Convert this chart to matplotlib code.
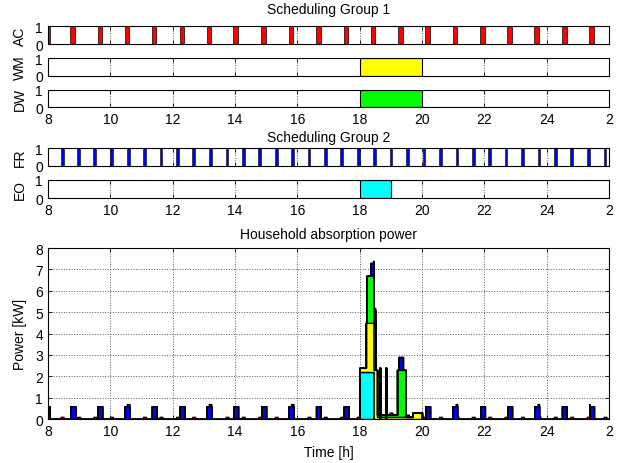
import numpy as np
import matplotlib
matplotlib.use('Agg')
import matplotlib.pyplot as plt

plt.rcParams['font.family'] = ['Liberation Sans', 'DejaVu Sans']
plt.rcParams['font.size'] = 10

# ---- data (hours / kW) ----
ac_start = [7.90, 8.72, 9.59, 10.46, 11.33, 12.22, 13.09, 13.95, 14.85, 15.72, 16.60,
            17.49, 18.35, 19.24, 20.11, 20.98, 21.87, 22.74, 23.61, 24.49, 25.37]
ac_dur = 0.15
ac_kw = 0.6

fr_start = [8.41, 8.94, 9.46, 9.99, 10.53, 11.05, 11.58, 12.11, 12.63, 13.16, 13.70,
            14.22, 14.75, 15.28, 15.80, 16.33, 16.85, 17.38, 17.91, 18.43, 18.96,
            19.49, 20.02, 20.55, 21.08, 21.60, 22.13, 22.65, 23.18, 23.71, 24.23,
            24.76, 25.29, 25.83]
fr_dur = 0.09
fr_kw = 0.1

wm_window = (18.0, 20.0)
dw_window = (18.0, 20.0)
eo_window = (18.0, 19.0)

# step profiles: breakpoints and power after each breakpoint
eo_t = [18.00, 18.45, 18.64, 18.66, 18.83, 18.85]
eo_p = [2.2, 0.0, 2.2, 0.0, 2.2, 0.0]
wm_t = [18.00, 18.20, 18.56, 19.48, 19.70, 20.00]
wm_p = [0.2, 2.3, 0.1, 0.1, 0.3, 0.0]
dw_t = [18.22, 18.51, 18.56, 19.20, 19.47]
dw_p = [2.2, 0.0, 0.1, 2.2, 0.0]

xticks = [8, 10, 12, 14, 16, 18, 20, 22, 24, 26]
xticklabels = ['8', '10', '12', '14', '16', '18', '20', '22', '24', '2']

t = np.round(np.arange(8.0, 26.0001, 0.005), 4)


def pulses(starts, dur, kw):
    p = np.zeros_like(t)
    for s in starts:
        p[(t >= s) & (t < s + dur)] = kw
    return p


def steps(bt, vals):
    p = np.zeros_like(t)
    for i in range(len(bt)):
        end = bt[i + 1] if i + 1 < len(bt) else 99
        p[(t >= bt[i]) & (t < end)] = vals[i]
    return p


def style(ax, labels=True):
    ax.set_xlim(8, 26)
    ax.set_xticks(xticks)
    if labels:
        ax.set_xticklabels(xticklabels)
    else:
        ax.set_xticklabels([])
    ax.tick_params(direction='in', top=True, right=True, length=3, width=0.6)
    ax.grid(True, ls=':', color='0.35', lw=0.7)
    ax.set_axisbelow(True)
    for s in ax.spines.values():
        s.set_linewidth(0.8)


fig = plt.figure(figsize=(6.24, 4.64), dpi=100)
L, W = 0.0769, 0.899
ax_ac = fig.add_axes([L, 0.9024, W, 0.0388])
ax_wm = fig.add_axes([L, 0.8347, W, 0.0381])
ax_dw = fig.add_axes([L, 0.7666, W, 0.0379])
ax_fr = fig.add_axes([L, 0.6407, W, 0.0375])
ax_eo = fig.add_axes([L, 0.5711, W, 0.0394])
ax = fig.add_axes([L, 0.0948, W, 0.3685])

top = [
    (ax_ac, 'AC', False),
    (ax_wm, 'WM', False),
    (ax_dw, 'DW', True),
    (ax_fr, 'FR', False),
    (ax_eo, 'EO', True),
]
for a, name, lab in top:
    style(a, lab)
    a.set_ylim(0, 1)
    a.set_yticks([0, 1])
    a.set_ylabel(name)
    a.yaxis.set_label_coords(-0.037, 0.5)

ax_ac.bar(ac_start, 1, width=ac_dur, align='edge', color='r', edgecolor='k', lw=0.5)
ax_fr.bar(fr_start, 1, width=fr_dur, align='edge', color='b', edgecolor='k', lw=0.4)
ax_wm.bar(wm_window[0], 1, width=wm_window[1] - wm_window[0], align='edge',
          color='yellow', edgecolor='k', lw=0.8)
ax_dw.bar(dw_window[0], 1, width=dw_window[1] - dw_window[0], align='edge',
          color='#00ff00', edgecolor='k', lw=0.8)
ax_eo.bar(eo_window[0], 1, width=eo_window[1] - eo_window[0], align='edge',
          color='cyan', edgecolor='k', lw=0.8)

fig.text(0.527, 0.978, 'Scheduling Group 1', ha='center', va='center')
fig.text(0.527, 0.7026, 'Scheduling Group 2', ha='center', va='center')
fig.text(0.527, 0.4935, 'Household absorption power', ha='center', va='center')

# stacked power
layers = [
    (steps(eo_t, eo_p), 'cyan'),
    (steps(wm_t, wm_p), 'yellow'),
    (steps(dw_t, dw_p), '#00ff00'),
    (pulses(ac_start, ac_dur, ac_kw), 'b'),
    (pulses(fr_start, fr_dur, fr_kw), 'r'),
]
base = np.zeros_like(t)
for p, c in layers:
    ax.fill_between(t, base, base + p, step='post', facecolor=c, edgecolor='k', lw=1.0)
    base = base + p

style(ax, True)
ax.set_ylim(0, 8)
ax.set_yticks(range(9))
ax.set_ylabel('Power [kW]')
ax.yaxis.set_label_coords(-0.037, 0.5)
ax.set_xlabel('Time [h]')
ax.xaxis.set_label_coords(0.5, -0.15)

fig.savefig('out.png', dpi=100)
